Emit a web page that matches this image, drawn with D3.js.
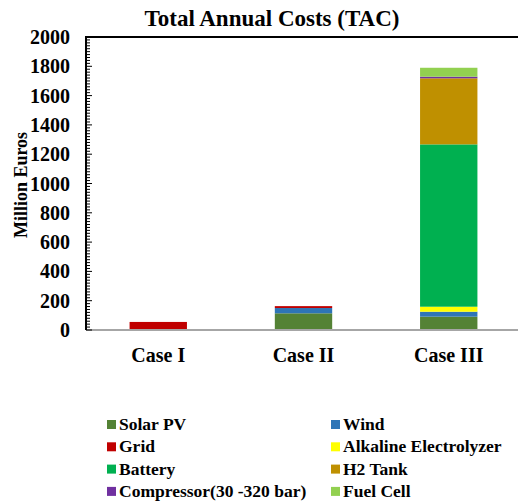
<!DOCTYPE html>
<html>
<head>
<meta charset="utf-8">
<script src="https://cdn.jsdelivr.net/npm/d3@7"></script>
<style>
  body { margin: 0; background: #fff; }
</style>
</head>
<body>
<div id="chart"></div>
<script>
// data (million euros)
const cases = ["Case I", "Case II", "Case III"];
const components = ["Solar PV", "Wind", "Grid", "Alkaline Electrolyzer", "Battery", "H2 Tank", "Compressor(30 -320 bar)", "Fuel Cell"];
const colors = ["#548235", "#2E75B6", "#C00000", "#FFFF00", "#00B050", "#BF9000", "#7030A0", "#92D050"];
const solarPV = [0, 114, 91];
const wind = [0, 36, 34];
const grid = [55, 13, 0];
const electrolyzer = [0, 0, 34];
const battery = [0, 0, 1108];
const h2Tank = [0, 0, 451];
const compressor = [0, 0, 11];
const fuelCell = [0, 0, 61];
const yTicks = [0, 200, 400, 600, 800, 1000, 1200, 1400, 1600, 1800, 2000];

const series = [solarPV, wind, grid, electrolyzer, battery, h2Tank, compressor, fuelCell];
const table = cases.map((c, i) => {
    const row = { name: c };
    components.forEach((k, j) => row[k] = series[j][i]);
    return row;
});

const W = 518, H = 501;
const plot = { left: 86, right: 521, top: 37, bottom: 330 };

const svg = d3.select("#chart").append("svg")
    .attr("width", W)
    .attr("height", H)
    .attr("font-family", "'Liberation Serif', 'Times New Roman', 'DejaVu Serif', serif")
    .attr("font-weight", "bold");

const x = d3.scaleBand()
    .domain(cases)
    .range([plot.left, plot.right])
    .paddingInner(0.605)
    .paddingOuter(0.3);

const y = d3.scaleLinear()
    .domain([0, 2000])
    .range([plot.bottom, plot.top]);

const stacked = d3.stack().keys(components)(table);

// bars
svg.append("g").selectAll("g")
    .data(stacked)
    .join("g")
    .attr("fill", (d, i) => colors[i])
    .selectAll("rect")
    .data(d => d.filter(p => p[1] - p[0] > 0))
    .join("rect")
    .attr("x", d => x(d.data.name))
    .attr("width", x.bandwidth())
    .attr("y", d => y(d[1]))
    .attr("height", d => y(d[0]) - y(d[1]));

// frame: top line and bottom axis
svg.append("line")
    .attr("x1", plot.left).attr("x2", W)
    .attr("y1", plot.top).attr("y2", plot.top)
    .attr("stroke", "#000").attr("stroke-width", 2);

svg.append("line")
    .attr("x1", plot.left).attr("x2", W)
    .attr("y1", plot.bottom).attr("y2", plot.bottom)
    .attr("stroke", "#a6a6a6").attr("stroke-width", 2);

// left axis with minor ticks inside
const yAxis = svg.append("g")
    .attr("transform", `translate(${plot.left},0)`);

yAxis.selectAll(".minor")
    .data(d3.range(0, 2001, 20))
    .join("line")
    .attr("x1", 0).attr("x2", d => d % 200 === 0 ? 6 : 4)
    .attr("y1", d => y(d)).attr("y2", d => y(d))
    .attr("stroke", "#000").attr("stroke-width", 1);

yAxis.append("line")
    .attr("x1", 0).attr("x2", 0)
    .attr("y1", plot.top - 1).attr("y2", plot.bottom)
    .attr("stroke", "#000").attr("stroke-width", 2);

yAxis.selectAll(".lbl")
    .data(yTicks)
    .join("text")
    .attr("x", -16)
    .attr("y", d => y(d))
    .attr("dy", "0.35em")
    .attr("text-anchor", "end")
    .attr("font-size", 20)
    .text(d => d);

// category labels
svg.append("g").selectAll("text")
    .data(cases)
    .join("text")
    .attr("x", d => x(d) + x.bandwidth() / 2)
    .attr("y", 362)
    .attr("text-anchor", "middle")
    .attr("font-size", 20)
    .text(d => d);

// title
svg.append("text")
    .attr("x", 272)
    .attr("y", 26)
    .attr("text-anchor", "middle")
    .attr("font-size", 23)
    .text("Total Annual Costs (TAC)");

// y label
svg.append("text")
    .attr("transform", "translate(27,185) rotate(-90)")
    .attr("text-anchor", "middle")
    .attr("font-size", 18)
    .text("Million Euros");

// legend, two columns
const legend = svg.append("g").selectAll("g")
    .data(components)
    .join("g")
    .attr("transform", (d, i) => `translate(${i % 2 === 0 ? 107 : 331},${424 + Math.floor(i / 2) * 22.3})`);

legend.append("rect")
    .attr("x", 0).attr("y", -4)
    .attr("width", 9).attr("height", 9)
    .attr("fill", (d, i) => colors[i]);

legend.append("text")
    .attr("x", 12)
    .attr("dy", "0.35em")
    .attr("font-size", 17.5)
    .text(d => d);
</script>
</body>
</html>
